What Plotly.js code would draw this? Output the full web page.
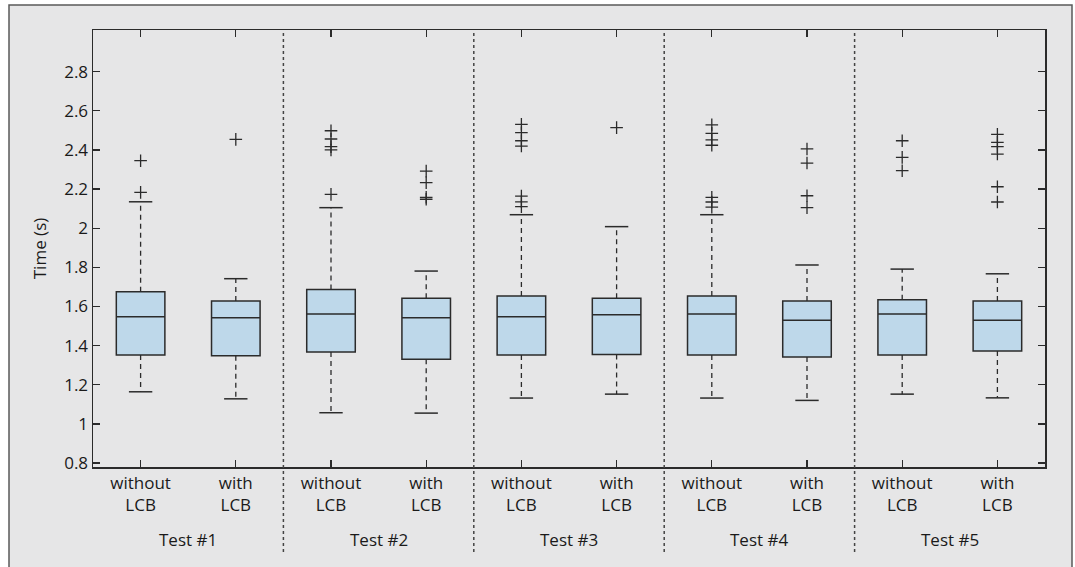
<!DOCTYPE html>
<html>
<head>
<meta charset="utf-8">
<script src="https://cdn.plot.ly/plotly-3.0.1.min.js"></script>
<style>html,body{margin:0;padding:0;background:#fff;}#chart{width:1075px;height:567px;}</style>
</head>
<body>
<div id="chart"></div>
<script>
var categories = ['T1 without','T1 with','T2 without','T2 with','T3 without','T3 with','T4 without','T4 with','T5 without','T5 with'];
var tickLabels = ['without<br>LCB','with<br>LCB','without<br>LCB','with<br>LCB','without<br>LCB','with<br>LCB','without<br>LCB','with<br>LCB','without<br>LCB','with<br>LCB'];
var testLabels = ['Test #1','Test #2','Test #3','Test #4','Test #5'];

var q1 = [1.352,1.348,1.367,1.330,1.352,1.355,1.352,1.342,1.352,1.372];
var median = [1.547,1.542,1.561,1.542,1.547,1.558,1.561,1.529,1.561,1.529];
var q3 = [1.675,1.628,1.687,1.642,1.653,1.642,1.653,1.628,1.634,1.628];
var lowerWhisker = [1.164,1.128,1.057,1.055,1.132,1.152,1.132,1.120,1.152,1.133];
var upperWhisker = [2.135,1.742,2.105,1.781,2.069,2.008,2.069,1.812,1.791,1.767];
var outliers = [
  [2.345,2.183],
  [2.454],
  [2.498,2.456,2.417,2.400,2.173],
  [2.292,2.233,2.158,2.148],
  [2.531,2.488,2.447,2.420,2.164,2.135,2.110],
  [2.514],
  [2.528,2.485,2.451,2.424,2.158,2.134,2.108],
  [2.405,2.333,2.166,2.105],
  [2.447,2.362,2.294],
  [2.480,2.439,2.417,2.379,2.212,2.134]
];

var ink = '#2b2b2b';
var txt = '#1a1a1a';
var font = 'Open Sans, Noto Sans, sans-serif';
var fs = 17;

var boxTrace = {
  type: 'box',
  x: categories,
  q1: q1, median: median, q3: q3,
  lowerfence: q1, upperfence: q3,
  width: 0.51,
  whiskerwidth: 0,
  boxpoints: false,
  fillcolor: '#bed8ea',
  line: {color: ink, width: 1.5},
  hoverinfo: 'skip',
  showlegend: false
};

var wx = [], wy = [];
categories.forEach(function(c, i) {
  wx.push(c, c, null, c, c, null);
  wy.push(q3[i], upperWhisker[i], null, q1[i], lowerWhisker[i], null);
});
var whiskers = {
  type: 'scatter', mode: 'lines', x: wx, y: wy,
  line: {color: ink, width: 1.3, dash: '5px,4px'},
  hoverinfo: 'skip', showlegend: false
};

var cx = [], cy = [];
categories.forEach(function(c, i) {
  cx.push(c, c); cy.push(upperWhisker[i], lowerWhisker[i]);
});
var caps = {
  type: 'scatter', mode: 'markers', x: cx, y: cy,
  marker: {symbol: 'line-ew-open', size: 16.7, color: ink, line: {color: ink, width: 1.5}},
  hoverinfo: 'skip', showlegend: false
};

var ox = [], oy = [];
categories.forEach(function(c, i) {
  outliers[i].forEach(function(v) { ox.push(c); oy.push(v); });
});
var outlierTrace = {
  type: 'scatter', mode: 'markers', x: ox, y: oy,
  marker: {symbol: 'cross-thin-open', size: 9, color: ink, line: {color: ink, width: 1.3}},
  hoverinfo: 'skip', showlegend: false
};

var W = 1075, H = 567;
var mL = 93, mR = 30, mT = 30, mB = 100;
var pw = W - mL - mR, ph = H - mT - mB;
function px2x(p) { return (p - mL) / pw; }
function py2y(p) { return (H - mB - p) / ph; }

var shapes = [{
  type: 'rect', xref: 'paper', yref: 'paper', layer: 'below',
  x0: px2x(9), x1: px2x(1072), y0: py2y(600), y1: py2y(5),
  fillcolor: '#e6e6e7', line: {color: '#5a5a5a', width: 1.5}
}];
var nGroups = testLabels.length;
var perGroup = categories.length / nGroups;
for (var k = 1; k < nGroups; k++) {
  var xf = (k * perGroup) / categories.length;
  shapes.push({
    type: 'line', xref: 'paper', yref: 'paper', layer: 'above',
    x0: xf, x1: xf, y0: py2y(552), y1: 1,
    line: {color: '#444', width: 1.5, dash: 'dot'}
  });
}
var annotations = testLabels.map(function(t, k) {
  return {
    xref: 'paper', yref: 'paper',
    x: (k * perGroup + perGroup / 2) / categories.length,
    y: py2y(539), yanchor: 'middle', xanchor: 'center',
    text: t, showarrow: false,
    font: {family: font, size: fs, color: txt}
  };
});

var layout = {
  width: W, height: H,
  margin: {l: mL, r: mR, t: mT, b: mB, pad: 0},
  paper_bgcolor: '#ffffff',
  plot_bgcolor: '#ddeaf3',
  font: {family: font, size: fs, color: txt},
  showlegend: false,
  xaxis: {
    type: 'category',
    categoryorder: 'array', categoryarray: categories,
    tickmode: 'array', tickvals: categories, ticktext: tickLabels,
    range: [-0.5, categories.length - 0.5],
    showgrid: false, zeroline: false,
    showline: true, linecolor: ink, linewidth: 1.5, mirror: 'ticks',
    ticks: 'inside', ticklen: 7, tickwidth: 1.3, tickcolor: ink,
    tickfont: {family: font, size: fs, color: txt}
  },
  yaxis: {
    range: [0.7796, 3.013],
    tickmode: 'array',
    tickvals: [0.8,1,1.2,1.4,1.6,1.8,2,2.2,2.4,2.6,2.8],
    ticktext: ['0.8','1','1.2','1.4','1.6','1.8','2','2.2','2.4','2.6','2.8'],
    showgrid: false, zeroline: false,
    showline: true, linecolor: ink, linewidth: 1.5, mirror: 'ticks',
    ticks: 'inside', ticklen: 7, tickwidth: 1.3, tickcolor: ink,
    tickfont: {family: font, size: fs, color: txt},
    title: {text: 'Time (s)', font: {family: font, size: fs, color: txt}, standoff: 13}
  },
  shapes: shapes,
  annotations: annotations
};

Plotly.newPlot('chart', [boxTrace, whiskers, caps, outlierTrace], layout, {staticPlot: true, displayModeBar: false});
</script>
</body>
</html>
